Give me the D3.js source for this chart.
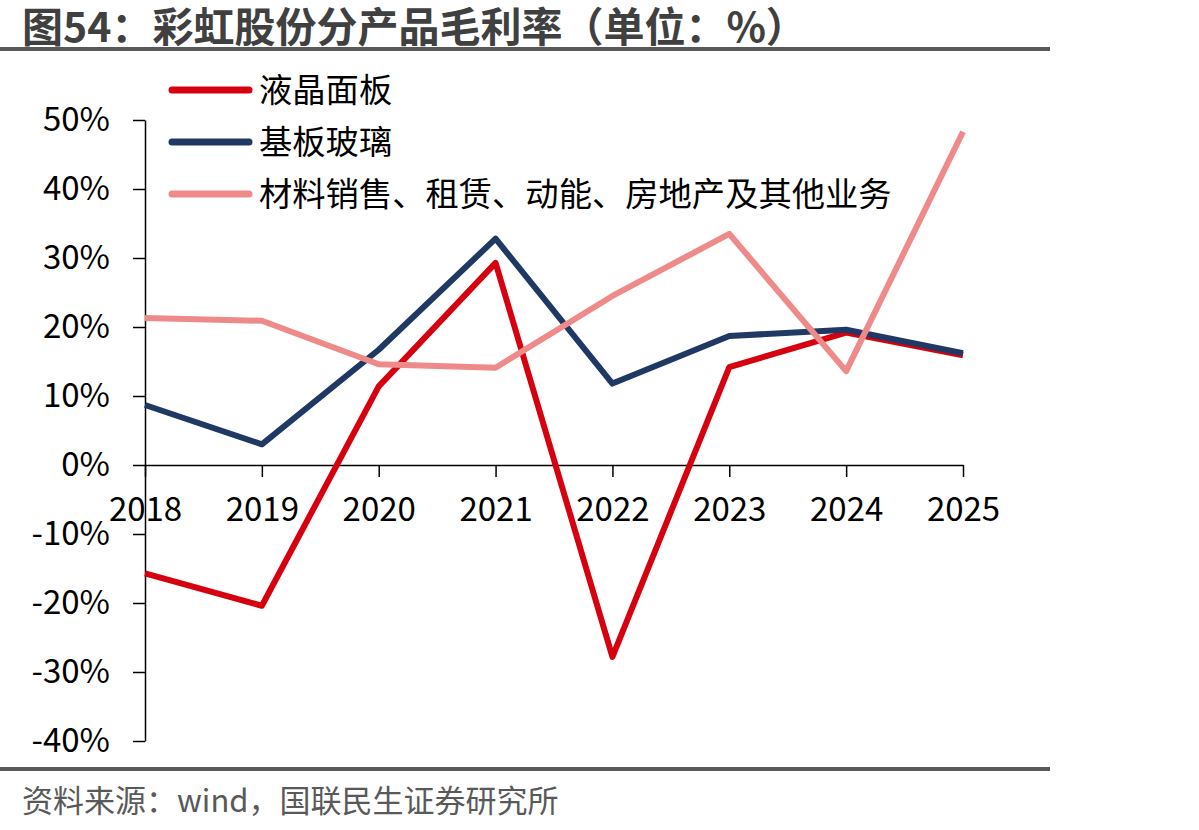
<!DOCTYPE html>
<html><head><meta charset="utf-8">
<script src="https://cdn.jsdelivr.net/npm/d3@7"></script>
<style>
html,body{margin:0;padding:0;background:#fff;}
svg text{font-family:"Noto Sans CJK SC","Noto Sans",sans-serif;}
</style></head>
<body>
<svg id="chart" width="1199" height="830"></svg>
<script>
const years = ["2018","2019","2020","2021","2022","2023","2024","2025"];
const lcdPanel = [-15.7, -20.4, 11.4, 29.3, -27.8, 14.2, 19.2, 15.9];
const substrateGlass = [8.7, 3.0, 16.7, 32.8, 11.8, 18.7, 19.6, 16.2];
const otherBusiness = [21.3, 20.9, 14.6, 14.1, 24.5, 33.5, 13.6, 48.3];
const seriesNames = ["液晶面板", "基板玻璃", "材料销售、租赁、动能、房地产及其他业务"];
const yTicks = [-40, -30, -20, -10, 0, 10, 20, 30, 40, 50];
const titleText = "图54：彩虹股份分产品毛利率（单位：%）";
const sourceText = "资料来源：wind，国联民生证券研究所";

const colors = ["#D7000F", "#203864", "#EE8A8A"];
const series = [lcdPanel, substrateGlass, otherBusiness];

const svg = d3.select("#chart");

// title
svg.append("text").attr("x", 22).attr("y", 42)
  .attr("font-size", 41).attr("font-weight", "bold").attr("fill", "#404040")
  .text(titleText);
svg.append("rect").attr("x", 0).attr("y", 47).attr("width", 1050).attr("height", 4).attr("fill", "#595959");
svg.append("rect").attr("x", 0).attr("y", 767).attr("width", 1050).attr("height", 4).attr("fill", "#595959");
svg.append("text").attr("x", 22).attr("y", 812)
  .attr("font-size", 31).attr("fill", "#595959").text(sourceText);

const x = d3.scalePoint().domain(years).range([145, 963]);
const y = d3.scaleLinear().domain([-40, 50]).range([741, 120]);

// y axis
const yAxis = svg.append("g").attr("transform", "translate(145,0)")
  .call(d3.axisLeft(y).tickValues(yTicks).tickSize(12).tickSizeOuter(0).tickFormat(d => d + "%"));
yAxis.selectAll("text").attr("font-size", 33).attr("fill", "#000").attr("x", -35)
  .attr("font-family", "'Noto Sans CJK SC',sans-serif");
yAxis.selectAll("line, path").attr("stroke", "#000").attr("stroke-width", 1.5);

// x axis at 0
const xAxis = svg.append("g").attr("transform", `translate(0,${y(0)})`)
  .call(d3.axisBottom(x).tickSize(12).tickSizeOuter(0));
xAxis.selectAll("text").attr("font-size", 33).attr("fill", "#000").attr("y", 33)
  .attr("font-family", "'Noto Sans CJK SC',sans-serif");
xAxis.selectAll("line, path").attr("stroke", "#000").attr("stroke-width", 1.5);

// lines
const line = d3.line().x((d, i) => x(years[i])).y(d => y(d));
series.forEach((s, k) => {
  svg.append("path").datum(s).attr("d", line)
    .attr("fill", "none").attr("stroke", colors[k]).attr("stroke-width", 6)
    .attr("stroke-linejoin", "round").attr("stroke-linecap", "butt");
});

// legend
const legendY = [90, 142, 194];
seriesNames.forEach((n, k) => {
  svg.append("line").attr("x1", 172).attr("x2", 249).attr("y1", legendY[k]).attr("y2", legendY[k])
    .attr("stroke", colors[k]).attr("stroke-width", 7).attr("stroke-linecap", "round");
  svg.append("text").attr("x", 259).attr("y", legendY[k]).attr("dy", "0.36em")
    .attr("font-size", 33.3).attr("fill", "#000").text(n);
});
</script>
</body></html>
